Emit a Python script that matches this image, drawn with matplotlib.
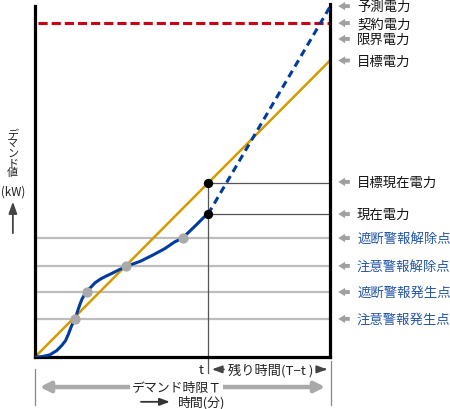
import matplotlib
matplotlib.use("Agg")
import matplotlib.pyplot as plt
import numpy as np

plt.rcParams['font.family'] = ['Noto Sans CJK JP', 'DejaVu Sans']

# demand period (min) and axis range (kW, schematic)
T = 30
Y_MAX = 100

t_curve = [0, 0.7, 1.5, 2.2, 2.7, 3.1, 3.4, 3.7, 4.07, 4.17, 4.37, 4.58, 4.78,
           4.98, 5.19, 5.39, 5.69, 6.10, 6.61, 7.22, 7.83, 8.54, 9.31, 10.7,
           12.0, 13.2, 14.2, 15.0, 15.8, 16.5, 17.1, 17.6]
kw_curve = [0, 0.1, 0.6, 1.8, 3.2, 4.6, 6.5, 8.7, 10.8, 11.6, 13.3, 15.0, 16.4,
            17.4, 18.3, 19.0, 19.8, 21.0, 22.0, 22.9, 23.7, 24.7, 25.7, 27.1,
            28.9, 30.7, 32.6, 33.7, 35.8, 37.7, 39.4, 40.5]

t_now = 17.6
kw_now = 40.5
kw_forecast = 99.2
kw_contract = 94.6
kw_limit = 90.1
kw_target = 84.0

# alarm points (time, kW), bottom to top
alarm_t = [4.07, 5.3, 9.3, 15.0]
alarm_kw = [10.8, 18.4, 25.8, 33.7]

labels_upper = ['予測電力', '契約電力', '限界電力', '目標電力']
labels_mid = ['目標現在電力', '現在電力']
labels_alarm = ['注意警報発生点', '遮断警報発生点', '注意警報解除点', '遮断警報解除点']

kw_target_now = kw_target * t_now / T

fig = plt.figure(figsize=(4.5, 4.1), dpi=100)
ax = fig.add_axes([35 / 450, 52 / 410, 295 / 450, 353 / 410])
ax.set_xlim(0, T)
ax.set_ylim(0, Y_MAX)
ax.set_xticks([])
ax.set_yticks([])
ax.spines['top'].set_visible(False)
for s in ['left', 'right', 'bottom']:
    ax.spines[s].set_linewidth(2.3)
ax.spines['left'].set_bounds(0, 99.3)

GRAY_L = '#bdbdbd'
GRAY_D = '#555555'
BLUE = '#003c9e'
GOLD = '#d49b00'
RED = '#cc0010'
TXT_BLUE = '#2457a6'

# guide lines
for k in alarm_kw:
    ax.plot([0, T], [k, k], color=GRAY_L, lw=1.6, zorder=1)
ax.plot([t_now, T], [kw_target_now, kw_target_now], color=GRAY_D, lw=0.9, zorder=1)
ax.plot([t_now, T], [kw_now, kw_now], color=GRAY_D, lw=0.9, zorder=1)
ax.plot([t_now, t_now], [kw_target_now, -4.5], color=GRAY_D, lw=0.9, zorder=1,
        clip_on=False)

# contract power
ax.plot([0.3, T], [kw_contract, kw_contract], color=RED, lw=2.2,
        dashes=(3, 1.3), zorder=2)
# target line
ax.plot([0, T], [0, kw_target], color=GOLD, lw=1.8, zorder=2)
# actual curve
ax.plot(t_curve, kw_curve, color=BLUE, lw=2.2, zorder=3,
        solid_capstyle='round', solid_joinstyle='round')
# forecast
ax.plot([t_now, T], [kw_now, kw_forecast], color=BLUE, lw=2.2,
        dashes=(2.4, 1.6), zorder=3)

ax.scatter(alarm_t, alarm_kw, s=55, color='#aaaaaa', zorder=4, linewidths=0)
ax.scatter([t_now, t_now], [kw_target_now, kw_now], s=45, color='black',
           zorder=5, linewidths=0)

# right-hand labels
label_y = [99.4, kw_contract, kw_limit, kw_target, 49.6, kw_now] + alarm_kw
label_txt = labels_upper + labels_mid + labels_alarm
label_col = ['#111111'] * 6 + [TXT_BLUE] * 4
for y, s, c in zip(label_y, label_txt, label_col):
    ax.annotate('', xy=(30.55, y), xytext=(32.3, y),
                arrowprops=dict(arrowstyle='simple,head_length=0.5,head_width=0.6,tail_width=0.28',
                                color='#a0a0a0', lw=0), annotation_clip=False)
    ax.text(32.75, y, s, fontsize=9.6, color=c, va='center', ha='left',
            clip_on=False)

# left label (vertical, stacked)
ax.text(-2.25, 57.8, 'デ\nマ\nン\nド\n値', fontsize=8, color='#222222',
        ha='center', va='center', linespacing=0.95, clip_on=False)
ax.text(-2.25, 47.0, '(kW)', fontsize=8.3, color='#222222', ha='center',
        va='center', clip_on=False)
ax.annotate('', xy=(-2.25, 44.8), xytext=(-2.25, 34.3),
            arrowprops=dict(arrowstyle='-|>,head_length=0.7,head_width=0.25',
                            color='#444444', lw=1.3), annotation_clip=False)

# bottom annotations
ax.text(t_now - 0.4, -3.5, 't', fontsize=9.5, color='#222222', ha='right',
        va='center', clip_on=False)
ax.text(19.6, -3.5, '残り時間(T−t )', fontsize=9.5, color='#222222', ha='left',
        va='center', clip_on=False)
ax.annotate('', xy=(t_now + 0.1, -3.5), xytext=(19.5, -3.5),
            arrowprops=dict(arrowstyle='-|>,head_length=0.6,head_width=0.22',
                            color='#444444', lw=1.3), annotation_clip=False)
ax.annotate('', xy=(T, -3.5), xytext=(29.0, -3.5),
            arrowprops=dict(arrowstyle='-|>,head_length=0.6,head_width=0.22',
                            color='#444444', lw=1.3), annotation_clip=False)

ax.plot([0, 0], [-3.5, -13.5], color='#888888', lw=0.9, clip_on=False)
ax.plot([T + 0.15, T + 0.15], [-1.0, -13.5], color='#888888', lw=0.9,
        clip_on=False)

ax.annotate('', xy=(0.2, -8.5), xytext=(T - 0.2, -8.5),
            arrowprops=dict(arrowstyle='<|-|>,head_length=0.6,head_width=0.3',
                            color='#aaaaaa', lw=3.2), annotation_clip=False)
ax.text(14.4, -8.5, 'デマンド時限Ｔ', fontsize=9.3, color='#222222', ha='center',
        va='center', clip_on=False,
        bbox=dict(facecolor='white', edgecolor='none', pad=1.0))

ax.annotate('', xy=(14.0, -12.7), xytext=(10.5, -12.7),
            arrowprops=dict(arrowstyle='-|>,head_length=0.6,head_width=0.22',
                            color='#333333', lw=1.3), annotation_clip=False)
ax.text(14.4, -12.7, '時間(分)', fontsize=9.3, color='#222222', ha='left',
        va='center', clip_on=False)

fig.savefig('out.png', dpi=100)
